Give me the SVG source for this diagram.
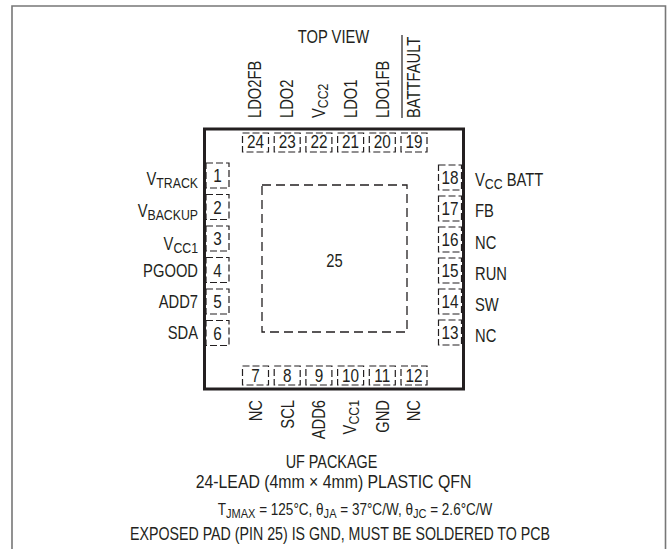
<svg xmlns="http://www.w3.org/2000/svg" width="669" height="549" viewBox="0 0 669 549">
<style>
text{font-family:"Liberation Sans",Arial,sans-serif;fill:#231f20;font-size:18px}
.s{font-size:15px}
.m{text-anchor:middle}
.e{text-anchor:end}
.pin{fill:none;stroke:#231f20;stroke-width:1.2;stroke-dasharray:7 3}
.pad{fill:none;stroke:#231f20;stroke-width:1.3;stroke-dasharray:9 5}
.sm{font-size:16.5px}
.ss{font-size:13.5px}
</style>
<rect width="669" height="549" fill="#fff"/>
<path d="M12,549V6H665.5V549" fill="none" stroke="#777" stroke-width="1.6"/>
<text class="m" transform="translate(333.5,43) scale(.82,1)">TOP VIEW</text>
<g id="package">
<rect x="204.5" y="129" width="259" height="260" fill="none" stroke="#231f20" stroke-width="3"/>
</g>
<g id="pad25">
<rect class="pad" x="262" y="185" width="145" height="147"/>
<text class="m" transform="translate(334.5,267) scale(.82,1)">25</text>
</g>
<g id="pins-top">
<rect class="pin" x="242.5" y="133" width="26" height="19"/><text class="m" transform="translate(255.5,148) scale(.85,1)">24</text>
<rect class="pin" x="274.2" y="133" width="26" height="19"/><text class="m" transform="translate(287.2,148) scale(.85,1)">23</text>
<rect class="pin" x="305.9" y="133" width="26" height="19"/><text class="m" transform="translate(318.9,148) scale(.85,1)">22</text>
<rect class="pin" x="337.6" y="133" width="26" height="19"/><text class="m" transform="translate(350.6,148) scale(.85,1)">21</text>
<rect class="pin" x="369.3" y="133" width="26" height="19"/><text class="m" transform="translate(382.3,148) scale(.85,1)">20</text>
<rect class="pin" x="401" y="133" width="26" height="19"/><text class="m" transform="translate(414,148) scale(.85,1)">19</text>
</g>
<g id="labels-top">
<text transform="translate(261,118) rotate(-90) scale(.82,1)">LDO2FB</text>
<text transform="translate(293,118) rotate(-90) scale(.82,1)">LDO2</text>
<text transform="translate(324.5,118) rotate(-90) scale(.82,1)">V<tspan class="s" dy="3">CC2</tspan></text>
<text transform="translate(356.5,118) rotate(-90) scale(.82,1)">LDO1</text>
<text transform="translate(388.5,118) rotate(-90) scale(.82,1)">LDO1FB</text>
<text transform="translate(419.5,118) rotate(-90) scale(.82,1)">BATTFAULT</text>
<line x1="402" y1="35" x2="402" y2="118" stroke="#231f20" stroke-width="1.2"/>
</g>
<g id="pins-bottom">
<rect class="pin" x="242.5" y="366" width="26" height="19"/><text class="m" transform="translate(255.5,382) scale(.85,1)">7</text>
<rect class="pin" x="274.2" y="366" width="26" height="19"/><text class="m" transform="translate(287.2,382) scale(.85,1)">8</text>
<rect class="pin" x="305.9" y="366" width="26" height="19"/><text class="m" transform="translate(318.9,382) scale(.85,1)">9</text>
<rect class="pin" x="337.6" y="366" width="26" height="19"/><text class="m" transform="translate(350.6,382) scale(.85,1)">10</text>
<rect class="pin" x="369.3" y="366" width="26" height="19"/><text class="m" transform="translate(382.3,382) scale(.85,1)">11</text>
<rect class="pin" x="401" y="366" width="26" height="19"/><text class="m" transform="translate(414,382) scale(.85,1)">12</text>
</g>
<g id="labels-bottom">
<text class="e" transform="translate(261.5,400) rotate(-90) scale(.82,1)">NC</text>
<text class="e" transform="translate(293.5,400) rotate(-90) scale(.82,1)">SCL</text>
<text class="e" transform="translate(325,400) rotate(-90) scale(.82,1)">ADD6</text>
<text class="e" transform="translate(356,400) rotate(-90) scale(.82,1)">V<tspan class="s" dy="3">CC1</tspan></text>
<text class="e" transform="translate(388.5,400) rotate(-90) scale(.82,1)">GND</text>
<text class="e" transform="translate(420,400) rotate(-90) scale(.82,1)">NC</text>
</g>
<g id="pins-left">
<rect class="pin" x="206" y="163" width="23" height="25"/><text class="m" transform="translate(217.5,182) scale(.85,1)">1</text>
<rect class="pin" x="206" y="194.5" width="23" height="25"/><text class="m" transform="translate(217.5,213.5) scale(.85,1)">2</text>
<rect class="pin" x="206" y="226" width="23" height="25"/><text class="m" transform="translate(217.5,245) scale(.85,1)">3</text>
<rect class="pin" x="206" y="257.5" width="23" height="25"/><text class="m" transform="translate(217.5,276.5) scale(.85,1)">4</text>
<rect class="pin" x="206" y="289" width="23" height="25"/><text class="m" transform="translate(217.5,308) scale(.85,1)">5</text>
<rect class="pin" x="206" y="320.5" width="23" height="25"/><text class="m" transform="translate(217.5,339.5) scale(.85,1)">6</text>
</g>
<g id="labels-left">
<text class="e" transform="translate(198,185) scale(.82,1)">V<tspan class="s" dy="3">TRACK</tspan></text>
<text class="e" transform="translate(198,217) scale(.82,1)">V<tspan class="s" dy="3">BACKUP</tspan></text>
<text class="e" transform="translate(198,249.5) scale(.82,1)">V<tspan class="s" dy="3">CC1</tspan></text>
<text class="e" transform="translate(198,277) scale(.82,1)">PGOOD</text>
<text class="e" transform="translate(198,307.5) scale(.82,1)">ADD7</text>
<text class="e" transform="translate(198,338.5) scale(.82,1)">SDA</text>
</g>
<g id="pins-right">
<rect class="pin" x="438.5" y="165" width="23" height="25"/><text class="m" transform="translate(450,184) scale(.85,1)">18</text>
<rect class="pin" x="438.5" y="196" width="23" height="25"/><text class="m" transform="translate(450,215) scale(.85,1)">17</text>
<rect class="pin" x="438.5" y="227" width="23" height="25"/><text class="m" transform="translate(450,246) scale(.85,1)">16</text>
<rect class="pin" x="438.5" y="258" width="23" height="25"/><text class="m" transform="translate(450,277) scale(.85,1)">15</text>
<rect class="pin" x="438.5" y="289" width="23" height="25"/><text class="m" transform="translate(450,308) scale(.85,1)">14</text>
<rect class="pin" x="438.5" y="320" width="23" height="25"/><text class="m" transform="translate(450,339) scale(.85,1)">13</text>
</g>
<g id="labels-right">
<text transform="translate(475,186) scale(.82,1)">V<tspan class="s" dy="3">CC</tspan><tspan dy="-3"> BATT</tspan></text>
<text transform="translate(475,217) scale(.82,1)">FB</text>
<text transform="translate(475,248.5) scale(.82,1)">NC</text>
<text transform="translate(475,280) scale(.82,1)">RUN</text>
<text transform="translate(475,311) scale(.82,1)">SW</text>
<text transform="translate(475,342) scale(.82,1)">NC</text>
</g>
<g id="caption">
<text class="m" transform="translate(331.5,468) scale(.8,1)">UF PACKAGE</text>
<text class="m" transform="translate(333.5,488) scale(.88,1)">24-LEAD (4mm × 4mm) PLASTIC QFN</text>
<text class="m sm" transform="translate(355,515) scale(.82,1)">T<tspan class="ss" dy="3">JMAX</tspan><tspan dy="-3"> = 125°C, θ</tspan><tspan class="ss" dy="3">JA</tspan><tspan dy="-3"> = 37°C/W, θ</tspan><tspan class="ss" dy="3">JC</tspan><tspan dy="-3"> = 2.6°C/W</tspan></text>
<text class="m" transform="translate(340,540) scale(.79,1)">EXPOSED PAD (PIN 25) IS GND, MUST BE SOLDERED TO PCB</text>
</g>
</svg>
